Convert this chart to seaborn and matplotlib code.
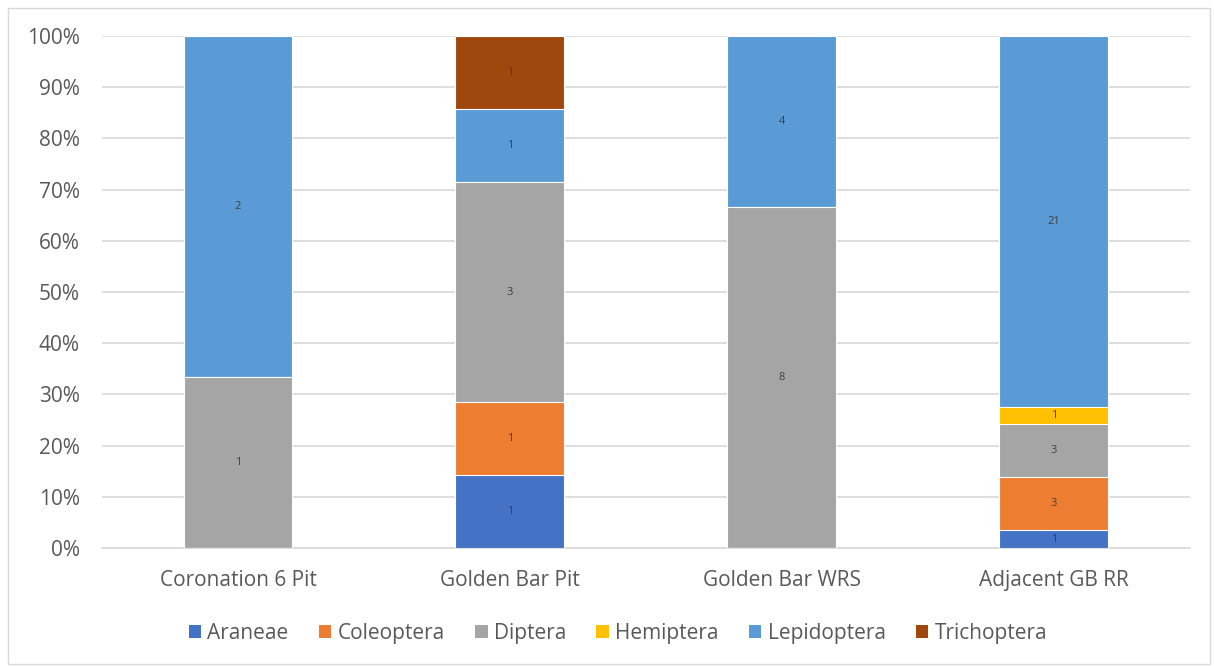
import numpy as np
import pandas as pd
import matplotlib
matplotlib.use("Agg")
import matplotlib.pyplot as plt
import seaborn as sns
from matplotlib.patches import Rectangle

categories = ["Coronation 6 Pit", "Golden Bar Pit", "Golden Bar WRS", "Adjacent GB RR"]
orders = ["Araneae", "Coleoptera", "Diptera", "Hemiptera", "Lepidoptera", "Trichoptera"]
araneae = [0, 1, 0, 1]
coleoptera = [0, 1, 0, 3]
diptera = [1, 3, 8, 3]
hemiptera = [0, 0, 0, 1]
lepidoptera = [2, 1, 4, 21]
trichoptera = [0, 1, 0, 0]
colors = ["#4472C4", "#ED7D31", "#A5A5A5", "#FFC000", "#5B9BD5", "#9E480E"]

sns.set_theme(style="white")
plt.rcParams["font.family"] = ["Open Sans", "DejaVu Sans"]

counts = pd.DataFrame(
    {"Araneae": araneae, "Coleoptera": coleoptera, "Diptera": diptera,
     "Hemiptera": hemiptera, "Lepidoptera": lepidoptera, "Trichoptera": trichoptera},
    index=categories)
pct = counts.div(counts.sum(axis=1), axis=0) * 100
cum = pct.cumsum(axis=1)

fig = plt.figure(figsize=(12.14, 6.66), dpi=100)
ax = fig.add_axes([0.084, 0.177, 0.896, 0.769])

for i in range(len(orders) - 1, -1, -1):
    name = orders[i]
    df = pd.DataFrame({"cat": categories, "val": cum[name].values})
    sns.barplot(data=df, x="cat", y="val", order=categories, color=colors[i],
                width=0.4, ax=ax, edgecolor="white", linewidth=0.8, zorder=3,
                saturation=1)

# data labels
for ci, cat in enumerate(categories):
    for name in orders:
        v = counts.loc[cat, name]
        if v > 0:
            mid = cum.loc[cat, name] - pct.loc[cat, name] / 2
            ax.text(ci, mid, str(v), ha="center", va="center", fontsize=8,
                    color="#404040", zorder=5)

ax.set_ylim(0, 100)
ax.set_xlim(-0.5, 3.5)
ax.set_yticks(np.arange(0, 101, 10))
ax.set_yticklabels([f"{t}%" for t in range(0, 101, 10)])
ax.yaxis.grid(True, color="#D9D9D9", linewidth=1.2, zorder=0)
ax.set_axisbelow(True)
for s in ["top", "right", "left"]:
    ax.spines[s].set_visible(False)
ax.spines["bottom"].set_color("#D9D9D9")
ax.spines["bottom"].set_linewidth(1.2)
ax.tick_params(axis="y", colors="#595959", labelsize=15, length=0, pad=16)
ax.tick_params(axis="x", colors="#595959", labelsize=15, length=0, pad=16)
ax.set_xlabel("")
ax.set_ylabel("")

handles = [Rectangle((0, 0), 1, 1, facecolor=c, edgecolor="none") for c in colors]
fig.legend(handles, orders, loc="center", bbox_to_anchor=(0.509, 0.049), ncol=6,
           frameon=False, fontsize=15, handlelength=0.6, handleheight=0.6,
           handletextpad=0.3, columnspacing=1.45, labelcolor="#595959")

fig.add_artist(Rectangle((0.007, 0.003), 0.99, 0.985, transform=fig.transFigure,
                         fill=False, edgecolor="#D9D9D9", linewidth=1))

fig.savefig("out.png", dpi=100)
